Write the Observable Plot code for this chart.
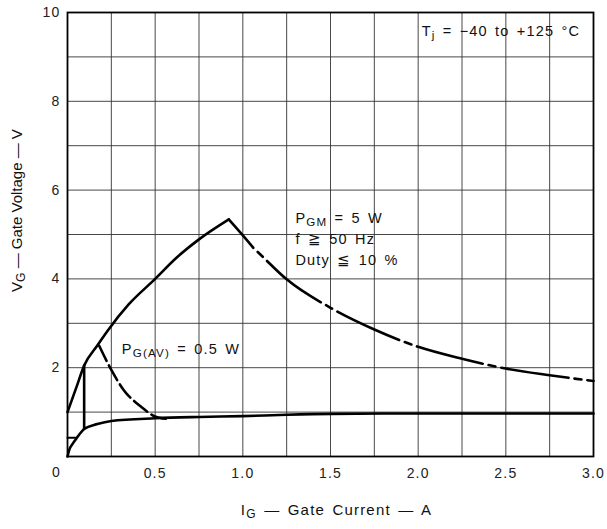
<!DOCTYPE html>
<html><head><meta charset="utf-8">
<script src="https://cdn.jsdelivr.net/npm/d3@7"></script>
<script src="https://cdn.jsdelivr.net/npm/@observablehq/plot@0.6"></script>
<style>
body{margin:0;background:#fff;}
#chart svg text{letter-spacing:1.2px; word-spacing:2px;}
</style></head><body><div id="chart"></div>
<script>
// ---- tick labels / grid ----
const xTicks = [0.5, 1.0, 1.5, 2.0, 2.5, 3.0];
const xTickLabels = ["0.5", "1.0", "1.5", "2.0", "2.5", "3.0"];
const yTicks = [2, 4, 6, 8, 10];
const yTickLabels = ["2", "4", "6", "8", "10"];
const xGrid = [0.25, 0.5, 0.75, 1.0, 1.25, 1.5, 1.75, 2.0, 2.25, 2.5, 2.75];
const yGrid = [1, 2, 3, 4, 5, 6, 7, 8, 9];

// ---- curves (I in A, V in V) ----
// rising max-gate-voltage boundary up to the P_GM corner
const riseI = [0, 0.05, 0.095, 0.17, 0.23, 0.35, 0.5, 0.62, 0.75, 0.92];
const riseV = [1.0, 1.55, 2.05, 2.5, 2.84, 3.43, 4.0, 4.47, 4.89, 5.34];
// P_GM = 5 W: solid start
const pgmSolidI = [0.92, 1.0, 1.06];
const pgmSolidV = [5.34, 4.98, 4.7];
// P_GM = 5 W: dash-dot continuation
const pgmDashI = [1.06, 1.1, 1.25, 1.5, 1.75, 2.0, 2.25, 2.5, 2.75, 3.0];
const pgmDashV = [4.7, 4.55, 3.99, 3.35, 2.86, 2.47, 2.2, 1.98, 1.83, 1.7];
// P_G(AV) = 0.5 W dashed
const pavI = [0.18, 0.25, 0.32, 0.42, 0.5, 0.56];
const pavV = [2.5, 1.95, 1.5, 1.12, 0.9, 0.85];
// lower (minimum) characteristic
const lowI = [0, 0.01, 0.03, 0.05, 0.095, 0.17, 0.25, 0.5, 0.75, 1.0, 1.25, 1.5, 2.0, 2.5, 3.0];
const lowV = [0, 0.15, 0.29, 0.4, 0.62, 0.73, 0.8, 0.86, 0.89, 0.91, 0.94, 0.96, 0.97, 0.97, 0.97];
// vertical limit at small current
const limI = [0.095, 0.095];
const limV = [0.62, 2.05];
// short horizontal stub
const stubI = [0, 0.05];
const stubV = [0.42, 0.42];

// ---- texts ----
const xLabel = "I_{G} — Gate Current — A";
const yLabel = "V_{G} — Gate Voltage — V";
const tjText = "T_{j} = −40 to +125 °C";
const pgmText = "P_{GM} = 5 W\nf ≧ 50 Hz\nDuty ≦ 10 %";
const pavText = "P_{G(AV)} = 0.5 W";

const zip = (a, b) => a.map((v, i) => ({I: v, V: b[i]}));
const lineOpts = {x: "I", y: "V", stroke: "#000", strokeWidth: 2.6, curve: "monotone-x"};

const plot = Plot.plot({
  width: 607, height: 529,
  marginLeft: 67, marginRight: 14, marginTop: 12, marginBottom: 73,
  style: {fontFamily: "'Liberation Sans', Arial, sans-serif", fontSize: "14px", color: "#111", background: "#fff"},
  x: {domain: [0, 3]},
  y: {domain: [0, 10]},
  marks: [
    Plot.ruleX(xGrid, {stroke: "#333", strokeWidth: 0.9}),
    Plot.ruleY(yGrid, {stroke: "#333", strokeWidth: 0.9}),
    Plot.axisX(xTicks, {tickSize: 0, tickPadding: 12, label: null, tickFormat: d => xTickLabels[xTicks.indexOf(d)], fontSize: 14, fill: "#222"}),
    Plot.axisY(yTicks, {tickSize: 0, tickPadding: 7, label: null, tickFormat: d => yTickLabels[yTicks.indexOf(d)], fontSize: 14, fill: "#222"}),
    Plot.text([0], {x: d => d, y: d => d, text: () => "0", dx: -11, dy: 16, fontSize: 14, fill: "#222"}),
    Plot.frame({stroke: "#000", strokeWidth: 1.8}),
    Plot.line(zip(riseI, riseV), lineOpts),
    Plot.line(zip(pgmSolidI, pgmSolidV), lineOpts),
    Plot.line(zip(pgmDashI, pgmDashV), {...lineOpts, strokeDasharray: "68,6,7,6", strokeDashoffset: 68}),
    Plot.line(zip(pavI, pavV), {...lineOpts, strokeDasharray: "17,5"}),
    Plot.line(zip(lowI, lowV), lineOpts),
    Plot.line(zip(limI, limV), {...lineOpts, curve: "linear"}),
    Plot.line(zip(stubI, stubV), {...lineOpts, strokeWidth: 2, curve: "linear"}),
    Plot.text([tjText], {x: 2.02, y: 9.48, text: d => d, textAnchor: "start", lineAnchor: "bottom", fontSize: 14.5, fill: "#111"}),
    Plot.text([pgmText], {x: 1.3, y: 5.6, text: d => d, textAnchor: "start", lineAnchor: "top", lineHeight: 1.45, fontSize: 14.5, fill: "#111"}),
    Plot.text([pavText], {x: 0.31, y: 2.3, text: d => d, textAnchor: "start", lineAnchor: "bottom", fontSize: 14.5, fill: "#111"}),
    Plot.text([xLabel], {frameAnchor: "bottom", text: d => d, dx: 6, dy: 58, fontSize: 15, fill: "#111"}),
    Plot.text([yLabel], {frameAnchor: "left", textAnchor: "middle", text: d => d, rotate: -90, dx: -50, dy: -24, fontSize: 15, fill: "#111"})
  ]
});

// convert _{...} into subscript tspans
function subify(root) {
  const NS = "http://www.w3.org/2000/svg";
  root.querySelectorAll("text, tspan").forEach(el => {
    if (el.querySelector("tspan")) return;
    const s = el.textContent;
    if (!s.includes("_{")) return;
    el.textContent = "";
    const re = /_\{([^}]*)\}/g;
    let last = 0, m;
    while ((m = re.exec(s))) {
      if (m.index > last) el.appendChild(document.createTextNode(s.slice(last, m.index)));
      const t = document.createElementNS(NS, "tspan");
      t.setAttribute("baseline-shift", "-25%");
      t.setAttribute("font-size", "80%");
      t.textContent = m[1];
      el.appendChild(t);
      last = re.lastIndex;
    }
    if (last < s.length) {
      const t = document.createElementNS(NS, "tspan");
      t.textContent = s.slice(last);
      el.appendChild(t);
    }
  });
}
// tighter spacing for the vertical axis title
plot.querySelectorAll("text").forEach(el => {
  if (el.textContent.includes("Gate Voltage")) {
    el.style.letterSpacing = "0px";
    el.style.wordSpacing = "0px";
  }
});
subify(plot);
document.getElementById("chart").appendChild(plot);
</script>
</body></html>
